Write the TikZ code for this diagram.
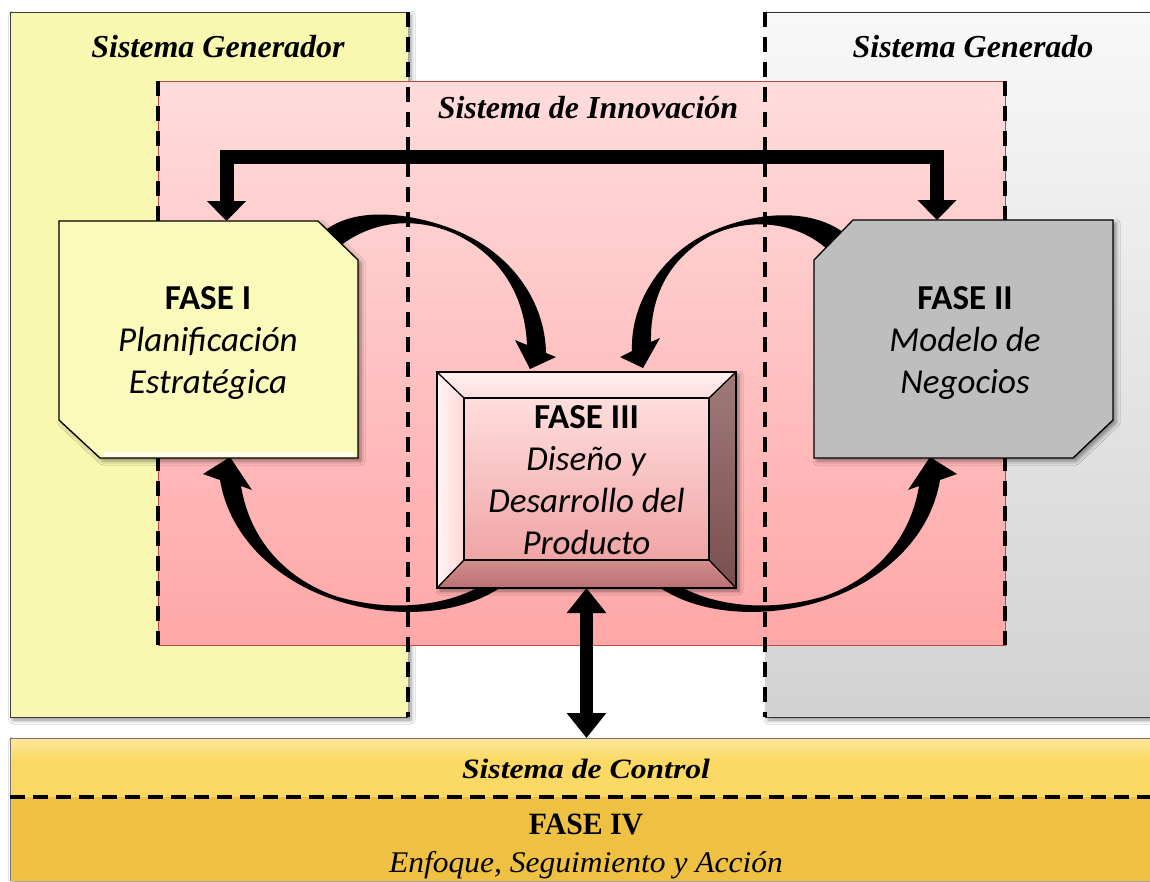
\documentclass[tikz,border=0pt]{standalone}
\usepackage{fontspec}
\setmainfont{Carlito}
\newfontfamily\tnr{Liberation Serif}
\newfontfamily\tnrA[FakeStretch=1.13]{Liberation Serif}
\newfontfamily\tnrB[FakeStretch=0.96]{Liberation Serif}
\newfontfamily\tnrC[FakeStretch=1.05]{Liberation Serif}
\usetikzlibrary{arrows.meta,shadows.blur}
\definecolor{genY}{HTML}{F8F8B0}
\definecolor{faseA}{HTML}{FAFABA}
\definecolor{faseB}{HTML}{BEBEBE}
\definecolor{pinkTop}{HTML}{FFDCDC}
\definecolor{pinkBot}{HTML}{FFA7A7}
\definecolor{grayTop}{HTML}{F8F8F8}
\definecolor{grayBot}{HTML}{D2D2D2}
\definecolor{ctrlY}{HTML}{FCD965}
\definecolor{ctrlTop}{HTML}{FDE79A}
\definecolor{faseD}{HTML}{EFC142}
\definecolor{pinkEdge}{HTML}{C04848}
\begin{document}
\begin{tikzpicture}[x=1pt,y=-1pt,
  dashline/.style={dash pattern=on 15pt off 10pt, line width=3.5pt, black},
  arcfill/.style={fill=black},
  title/.style={font=\tnr\bfseries\itshape\fontsize{32}{38}\selectfont, inner sep=0pt, anchor=base},
  phase/.style={font=\fontsize{35}{42}\selectfont, align=center, inner sep=0pt},
  bottomtxt/.style={inner sep=0pt, anchor=base},
  softshadow/.style={blur shadow={shadow xshift=3pt, shadow yshift=-3pt, shadow blur radius=4pt, shadow opacity=45}},
  thickarrow/.style={line width=#1, black},
  edge/.style={draw=black, line width=1.3pt},
]
\useasboundingbox (0,0) rectangle (1150,881);
\fill[white] (0,0) rectangle (1150,881);

% outer systems
\fill[genY, softshadow] (10,12) rectangle (408,717);
\draw[black!75, line width=1pt] (408,12) -- (10,12) -- (10,717) -- (408,717);
\shade[top color=grayTop, bottom color=grayBot, softshadow] (765,12) rectangle (1152,717);
\draw[black!80, line width=1pt] (765,12) -- (1152,12);
\draw[black!80, line width=1pt] (765,717) -- (1152,717);

% innovation system
\shade[top color=pinkTop, bottom color=pinkBot] (158,81) rectangle (1005,645);
\draw[pinkEdge, line width=0.8pt] (158,81) rectangle (1005,645);

% dashed borders
\draw[dashline] (408,12) -- (408,717);
\draw[dashline] (765,12) -- (765,717);
\draw[dashline] (158,81) -- (158,645);
\draw[dashline] (1005,81) -- (1005,645);

% titles
\node[title] (tgen) at (218,57) {Sistema Generador};
\node[title] (tgdo) at (973,57) {Sistema Generado};
\node[title] (tinn) at (588,118) {Sistema de Innovación};

% connector coordinates
\coordinate (tlA1) at (320,235);
\coordinate (tlA2) at (335,250);
\coordinate (tlTip) at (530,369);
\coordinate (trB1) at (848,236);
\coordinate (trB2) at (830,252);
\coordinate (trTip) at (643,368);
\coordinate (blS1) at (505,584);
\coordinate (blS2) at (490,580);
\coordinate (blTip) at (230,457);
\coordinate (brS1) at (655,584);
\coordinate (brS2) at (670,580);
\coordinate (brTip) at (930,457);

% curved arrows (drawn behind the phase boxes)
\fill[arcfill] (tlA1) .. controls (350,205) and (410,212) .. (455,230)
  .. controls (510,252) and (545,300) .. (546,353)
  -- (556,357) -- (tlTip) -- (515,340) -- (527,345)
  .. controls (525,295) and (500,255) .. (455,234)
  .. controls (415,216) and (370,220) .. (tlA2) -- cycle;
\fill[arcfill] (trB1) .. controls (815,208) and (760,210) .. (710,232)
  .. controls (665,252) and (630,300) .. (632,351)
  -- (620,357) -- (trTip) -- (660,338) -- (651,342)
  .. controls (650,295) and (670,258) .. (710,236)
  .. controls (750,216) and (800,222) .. (trB2) -- cycle;
\fill[arcfill] (blS1) .. controls (465,615) and (395,620) .. (335,600)
  .. controls (280,582) and (230,540) .. (220,480)
  -- (203,474) -- (blTip) -- (252,490) -- (241,486)
  .. controls (250,540) and (285,578) .. (335,596)
  .. controls (395,614) and (455,605) .. (blS2) -- cycle;
\fill[arcfill] (brS1) .. controls (695,615) and (765,620) .. (825,600)
  .. controls (880,582) and (930,540) .. (940,480)
  -- (957,474) -- (brTip) -- (908,490) -- (919,486)
  .. controls (910,540) and (875,578) .. (825,596)
  .. controls (765,614) and (705,605) .. (brS2) -- cycle;

% FASE I
\fill[faseA, softshadow] (59,221) -- (318,221) -- (358,260) -- (358,458) -- (100,458) -- (59,420) -- cycle;
\draw[white, opacity=0.7, line width=5pt] (104,454) -- (354,454);
\draw[edge] (59,221) -- (318,221) -- (358,260) -- (358,458) -- (100,458) -- (59,420) -- cycle;
\node[phase] (f1) at (208,343) {\textbf{FASE I}\\\textit{Planificación}\\\textit{Estratégica}};

% FASE II
\fill[faseB, softshadow] (853,220) -- (1113,220) -- (1113,420) -- (1073,458) -- (814,458) -- (814,260) -- cycle;
\draw[edge] (853,220) -- (1113,220) -- (1113,420) -- (1073,458) -- (814,458) -- (814,260) -- cycle;
\node[phase] (f2) at (965,343) {\textbf{FASE II}\\\textit{Modelo de}\\\textit{Negocios}};

% FASE III (bevelled box)
\coordinate (o1) at (437,372); \coordinate (o2) at (736,372);
\coordinate (o3) at (736,588); \coordinate (o4) at (437,588);
\coordinate (i1) at (464,398); \coordinate (i2) at (709,398);
\coordinate (i3) at (709,560); \coordinate (i4) at (464,560);
\fill[black, softshadow] (o1) rectangle (o3);
\shade[top color=white!60!pinkTop, bottom color=pinkTop] (o1) -- (o2) -- (i2) -- (i1) -- cycle;
\shade[left color=white!70!pinkTop, right color=pinkTop!90!pinkBot] (o1) -- (i1) -- (i4) -- (o4) -- cycle;
\shade[top color={rgb,255:red,160;green,122;blue,122}, bottom color={rgb,255:red,122;green,78;blue,78}] (o2) -- (o3) -- (i3) -- (i2) -- cycle;
\shade[top color={rgb,255:red,212;green,142;blue,142}, bottom color={rgb,255:red,186;green,112;blue,112}] (o4) -- (i4) -- (i3) -- (o3) -- cycle;
\shade[top color=pinkTop!95!white, bottom color={rgb,255:red,240;green,164;blue,164}] (i1) rectangle (i3);
\draw[edge] (o1) rectangle (o3);
\draw[edge] (i1) rectangle (i3);
\draw[edge] (o1) -- (i1) (o2) -- (i2) (o3) -- (i3) (o4) -- (i4);
\node[phase] (f3) at (586.5,480) {\textbf{FASE III}\\\textit{Diseño y}\\\textit{Desarrollo del}\\\textit{Producto}};

% top bracket arrow
\coordinate (bkL) at (226.5,221);
\coordinate (bkLc) at (226.5,157);
\coordinate (bkRc) at (937,157);
\coordinate (bkR) at (937,220);
\draw[thickarrow=14pt, line join=miter, {Triangle[length=20pt,width=38pt]}-{Triangle[length=20pt,width=38pt]}]
  (bkL) -- (bkLc) -- (bkRc) -- (bkR);

% bottom control system
\fill[faseD, softshadow] (10,738) rectangle (1152,881);
\shade[top color=ctrlTop, bottom color=ctrlY] (10,738) rectangle (1152,760);
\fill[ctrlY] (10,760) rectangle (1152,797);
\draw[black!55, line width=1pt] (1152,738) -- (10,738) -- (10,881);
\draw[dash pattern=on 15pt off 8pt, line width=3.5pt, black] (10,797) -- (1152,797);
\node[bottomtxt, font=\tnrA\bfseries\itshape\fontsize{28}{32}\selectfont] (ctrl) at (586,778) {Sistema de Control};
\node[bottomtxt, font=\tnrB\bfseries\fontsize{31}{34}\selectfont] (f4) at (586,834) {FASE IV};
\node[bottomtxt, font=\tnrC\itshape\fontsize{30}{34}\selectfont] (f4b) at (586,872) {Enfoque, Seguimiento y Acción};

% double arrow FASE III <-> control
\coordinate (dA) at (586.5,588);
\coordinate (dB) at (586.5,738);
\draw[thickarrow=13pt, {Triangle[length=25pt,width=38pt]}-{Triangle[length=25pt,width=38pt]}] (dA) -- (dB);
\end{tikzpicture}
\end{document}
